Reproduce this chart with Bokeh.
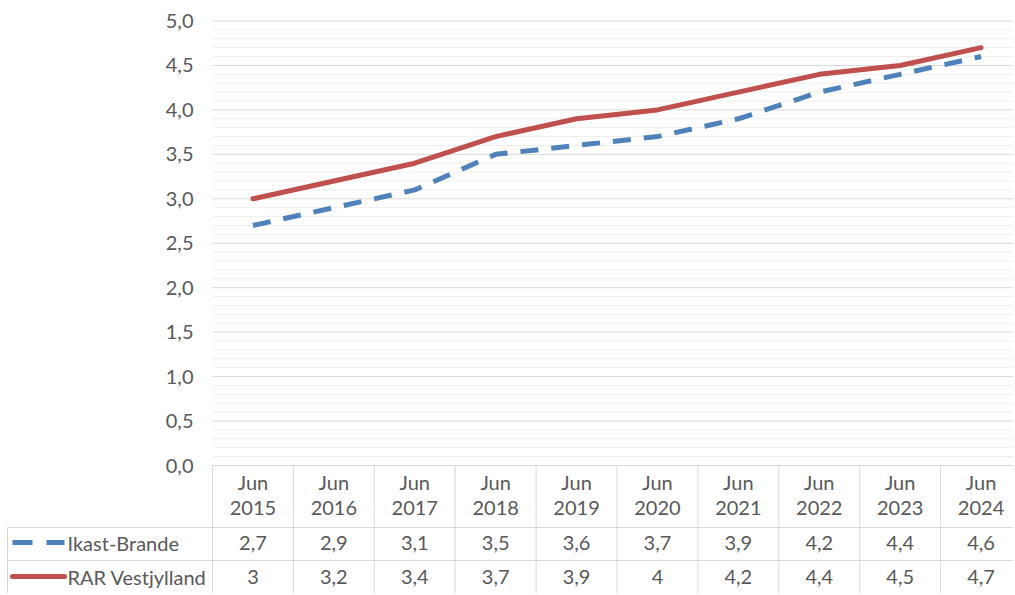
from bokeh.plotting import figure
from bokeh.models import Range1d
from bokeh.core.properties import value
from bokeh.embed import file_html
from bokeh.resources import INLINE

# ---------------- data ----------------
categories = ["Jun 2015", "Jun 2016", "Jun 2017", "Jun 2018", "Jun 2019",
              "Jun 2020", "Jun 2021", "Jun 2022", "Jun 2023", "Jun 2024"]
ikast_brande = [2.7, 2.9, 3.1, 3.5, 3.6, 3.7, 3.9, 4.2, 4.4, 4.6]
rar_vestjylland = [3, 3.2, 3.4, 3.7, 3.9, 4, 4.2, 4.4, 4.5, 4.7]
series_names = ["Ikast-Brande", "RAR Vestjylland"]
y_ticks = [0.0, 0.5, 1.0, 1.5, 2.0, 2.5, 3.0, 3.5, 4.0, 4.5, 5.0]
y_minor_step = 0.1

# ---------------- layout (pixels) ----------------
W, H = 1013, 593
COL_W = 80.9          # px per category column
Y_U = 88.9            # px per value unit
X0_PX = 212           # left edge of first data column
Y0_PX = 465           # y = 0 from top
HEADER_BOTTOM = 527
ROW1_BOTTOM = 560
ROW2_BOTTOM = 600
FONT = value("Lato")
TXT_COL = "#595959"
GRID_MAJOR = "#d9d9d9"
GRID_MINOR = "#eeeeee"
BLUE = "#4F81BD"
RED = "#C0504D"
FS = "20px"

x_start = -0.5 - X0_PX / COL_W
x_end = x_start + W / COL_W
y_end = Y0_PX / Y_U
y_start = y_end - H / Y_U


def xd(px):
    return x_start + px / COL_W


def yd(px):
    return y_end - px / Y_U


n = len(categories)
xs = list(range(n))

p = figure(width=W, height=H, output_backend="svg", toolbar_location=None,
           x_range=Range1d(x_start, x_end), y_range=Range1d(y_start, y_end),
           x_axis_location=None, y_axis_location=None, min_border=0,
           outline_line_color=None, background_fill_color="white",
           border_fill_color="white")
for g in p.grid:
    g.visible = False

# ---------------- gridlines ----------------
n_minor = int(round(y_ticks[-1] / y_minor_step))
minor = [round(i * y_minor_step, 1) for i in range(n_minor + 1)]
minor = [m for m in minor if all(abs(m - t) > 1e-9 for t in y_ticks)]
right = x_end + 1
p.segment(x0=[-0.5] * len(minor), x1=[right] * len(minor), y0=minor, y1=minor,
          line_color=GRID_MINOR, line_width=1)
p.segment(x0=[-0.5] * len(y_ticks), x1=[right] * len(y_ticks), y0=y_ticks, y1=y_ticks,
          line_color=GRID_MAJOR, line_width=1)

# y tick labels
p.text(x=[xd(193)] * len(y_ticks), y=y_ticks,
       text=[f"{t:.1f}".replace(".", ",") for t in y_ticks],
       text_align="right", text_baseline="middle", text_font=FONT,
       text_font_size=FS, text_color=TXT_COL)

# ---------------- series ----------------
p.line(xs, ikast_brande, line_color=BLUE, line_width=5, line_dash="18 13",
       line_join="round", line_cap="butt")
p.line(xs, rar_vestjylland, line_color=RED, line_width=5,
       line_join="round", line_cap="round")

# ---------------- data table ----------------
y_hb = yd(HEADER_BOTTOM)
y_r1 = yd(ROW1_BOTTOM)
y_r2 = yd(ROW2_BOTTOM)
x_left = xd(7)
# horizontal borders
p.segment(x0=[x_left, x_left], x1=[right, right], y0=[y_hb, y_r1], y1=[y_hb, y_r1],
          line_color=GRID_MAJOR, line_width=1)
# vertical borders between columns
vx = [i - 0.5 for i in range(n + 1)]
p.segment(x0=vx, x1=vx, y0=[0] * len(vx), y1=[y_r2] * len(vx),
          line_color=GRID_MAJOR, line_width=1)
p.segment(x0=[x_left], x1=[x_left], y0=[y_hb], y1=[y_r2],
          line_color=GRID_MAJOR, line_width=1)

months = [c.split(" ")[0] for c in categories]
years = [c.split(" ")[1] for c in categories]
p.text(x=xs, y=[yd(481)] * n, text=months, text_align="center", text_baseline="middle",
       text_font=FONT, text_font_size=FS, text_color=TXT_COL)
p.text(x=xs, y=[yd(507)] * n, text=years, text_align="center", text_baseline="middle",
       text_font=FONT, text_font_size=FS, text_color=TXT_COL)


def fmt(v):
    return f"{v:g}".replace(".", ",")


y_row1 = yd(542)
y_row2 = yd(576)
p.text(x=xs, y=[y_row1] * n, text=[fmt(v) for v in ikast_brande], text_align="center",
       text_baseline="middle", text_font=FONT, text_font_size=FS, text_color=TXT_COL)
p.text(x=xs, y=[y_row2] * n, text=[fmt(v) for v in rar_vestjylland], text_align="center",
       text_baseline="middle", text_font=FONT, text_font_size=FS, text_color=TXT_COL)

# legend keys in row headers
p.segment(x0=[xd(12)], x1=[xd(64)], y0=[y_row1], y1=[y_row1], line_color=BLUE,
          line_width=5, line_dash="20 14", line_cap="butt")
p.segment(x0=[xd(12)], x1=[xd(64)], y0=[y_row2], y1=[y_row2], line_color=RED,
          line_width=5, line_cap="round")
p.text(x=[xd(67), xd(67)], y=[y_row1, y_row2], text=series_names, text_align="left",
       text_baseline="middle", text_font=FONT, text_font_size=FS, text_color=TXT_COL)

open("out.html", "w").write(file_html(p, INLINE))
